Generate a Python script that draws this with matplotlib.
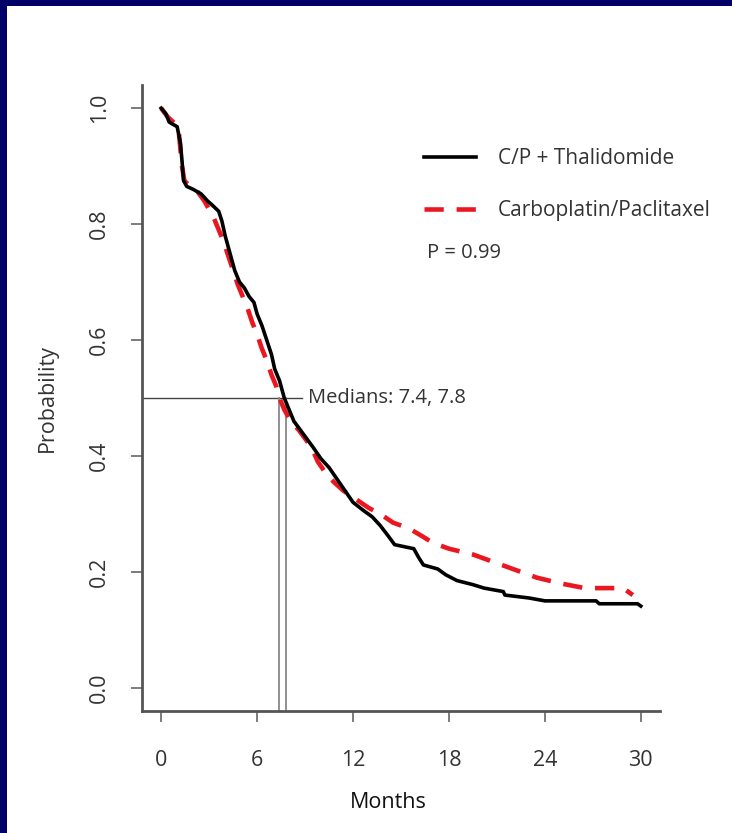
import matplotlib
matplotlib.use("Agg")
import matplotlib.pyplot as plt
from matplotlib.patches import Rectangle

# Curvas de Kaplan-Meier (meses, probabilidad)
t_thal = [0, 0.3, 0.5, 1.0, 1.2, 1.3, 1.4, 1.6, 2.0, 2.5, 2.9, 3.3, 3.6, 3.8, 4.0,
          4.2, 4.4, 4.6, 4.9, 5.2, 5.5, 5.8, 6.0, 6.3, 6.6, 6.9, 7.1, 7.4, 7.7,
          8.0, 8.3, 8.7, 9.1, 9.5, 10.0, 10.5, 11.0, 11.5, 12.0, 12.6, 13.2,
          13.7, 14.2, 14.6, 15.8, 16.1, 16.4, 17.3, 17.8, 18.5, 19.5, 20.2,
          21.4, 21.5, 23.0, 24.0, 27.2, 27.4, 29.8, 30.0]
p_thal = [1.0, 0.99, 0.976, 0.968, 0.94, 0.91, 0.875, 0.865, 0.86, 0.852, 0.84,
          0.83, 0.822, 0.805, 0.78, 0.76, 0.74, 0.72, 0.70, 0.69, 0.675, 0.665,
          0.645, 0.625, 0.60, 0.575, 0.55, 0.53, 0.50, 0.48, 0.46, 0.445, 0.43,
          0.415, 0.395, 0.38, 0.36, 0.34, 0.32, 0.307, 0.295, 0.28, 0.262,
          0.247, 0.24, 0.225, 0.212, 0.205, 0.195, 0.185, 0.178, 0.172, 0.166,
          0.16, 0.155, 0.15, 0.15, 0.145, 0.145, 0.141]

t_cp = [0, 0.4, 0.8, 1.1, 1.2, 1.3, 1.45, 1.8, 2.3, 2.7, 3.0, 3.3, 3.6, 3.9, 4.2,
        4.5, 4.8, 5.1, 5.4, 5.7, 6.0, 6.3, 6.6, 6.9, 7.2, 7.4, 7.7, 8.1, 8.6,
        9.0, 9.4, 9.8, 10.3, 10.8, 11.4, 12.2, 13.0, 13.7, 14.5, 15.5, 16.3,
        17.0, 18.0, 19.5, 20.5, 21.5, 22.5, 23.5, 25.0, 26.5, 28.9, 29.5]
p_cp = [1.0, 0.985, 0.975, 0.96, 0.93, 0.90, 0.875, 0.865, 0.855, 0.84, 0.825,
        0.81, 0.79, 0.77, 0.745, 0.72, 0.695, 0.675, 0.655, 0.63, 0.61, 0.585,
        0.565, 0.54, 0.52, 0.50, 0.48, 0.46, 0.445, 0.43, 0.415, 0.39, 0.37,
        0.355, 0.34, 0.325, 0.31, 0.30, 0.285, 0.275, 0.262, 0.25, 0.24, 0.23,
        0.22, 0.21, 0.20, 0.19, 0.18, 0.172, 0.172, 0.16]

medianas = [7.4, 7.8]
etiquetas = ["C/P + Thalidomide", "Carboplatin/Paclitaxel"]
x_ticks = [0, 6, 12, 18, 24, 30]
y_ticks = [0.0, 0.2, 0.4, 0.6, 0.8, 1.0]

plt.rcParams["font.family"] = ["Open Sans", "DejaVu Sans"]
gris = "#333333"

fig = plt.figure(figsize=(7.32, 8.33), dpi=100)
fig.patch.set_facecolor("#000066")
# panel blanco (borde azul arriba y a la izquierda)
fig.patches.append(Rectangle((7 / 732, 0), 1, 1 - 6 / 833, transform=fig.transFigure,
                             facecolor="white", edgecolor="none", zorder=-10))

ax = fig.add_axes([142 / 732, 1 - 711 / 833, (660 - 142) / 732, (711 - 85) / 833])
ax.set_zorder(5)
ax.set_facecolor("none")
ax.set_xlim(-1.2, 31.2)
ax.set_ylim(-0.04, 1.04)

# Lineas de medianas
ax.plot([-1.2, 8.8], [0.5, 0.5], color="#444444", lw=1.0, zorder=1)
for m in medianas:
    ax.plot([m, m], [-0.04, 0.5], color="#888888", lw=1.3, zorder=1)

ax.plot(t_thal, p_thal, color="black", lw=2.6, label=etiquetas[0], zorder=3)
ax.plot(t_cp, p_cp, color="#ea1720", lw=3.3, dashes=(4.2, 2.8),
        label=etiquetas[1], zorder=2)

ax.text(9.2, 0.5, "Medians: 7.4, 7.8", fontsize=14.5, color=gris, va="center", ha="left")
ax.text(16.6, 0.75, "P = 0.99", fontsize=14.5, color=gris, va="center", ha="left")

ax.legend(loc="upper left", bbox_to_anchor=(424 / 732, 1 - 148 / 833),
          bbox_transform=fig.transFigure, frameon=False, fontsize=15,
          handlelength=2.5, handletextpad=1.05, labelspacing=1.5, borderpad=0,
          borderaxespad=0, labelcolor=gris)

for s in ["top", "right"]:
    ax.spines[s].set_visible(False)
for s in ["left", "bottom"]:
    ax.spines[s].set_color("#555555")
    ax.spines[s].set_linewidth(2.0)

ax.set_xticks(x_ticks)
ax.set_yticks(y_ticks)
ax.set_yticklabels([f"{v:.1f}" for v in y_ticks], rotation=90, va="center")
ax.tick_params(direction="out", length=8, width=1.2, color="#666666",
               labelsize=15.5, labelcolor=gris)
ax.tick_params(axis="x", pad=20)
ax.tick_params(axis="y", pad=15)

fig.text(388 / 732, 1 - 803 / 833, "Months", fontsize=15.5, color="#111111",
         ha="center", va="center")
fig.text(47 / 732, 1 - 398 / 833, "Probability", fontsize=15.5, color=gris,
         rotation=90, ha="center", va="center")

plt.savefig("out.png", dpi=100, facecolor=fig.get_facecolor())
plt.close()
